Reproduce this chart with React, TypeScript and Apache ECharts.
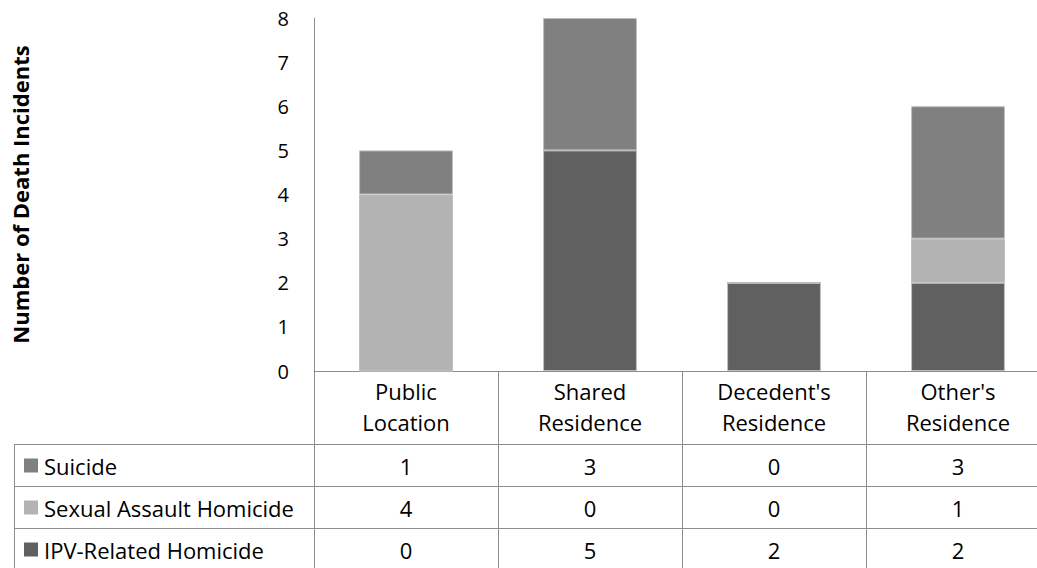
import React, { useEffect, useRef } from "react";
import * as echarts from "echarts";

const categories = ["Public Location", "Shared Residence", "Decedent's Residence", "Other's Residence"];
const suicide = [1, 3, 0, 3];
const sexualAssault = [4, 0, 0, 1];
const ipvHomicide = [0, 5, 2, 2];
const seriesNames = ["Suicide", "Sexual Assault Homicide", "IPV-Related Homicide"];
const seriesColors = ["#808080", "#b3b3b3", "#606060"];
const yMin = 0;
const yMax = 8;
const yInterval = 1;
const axisTitle = "Number of Death Incidents";

const FONT = "'Open Sans', 'Noto Sans', sans-serif";
const LINE = "#8e8e8e";

export default function App() {
  const ref = useRef<HTMLDivElement>(null);
  useEffect(() => {
    document.body.style.margin = "0";
    const el = ref.current!;
    const chart = echarts.init(el, null, { renderer: "svg" });
    const seriesData = [suicide, sexualAssault, ipvHomicide];
    // stack order bottom to top: IPV, Sexual, Suicide
    const stackOrder = [2, 1, 0];
    const option: any = {
      animation: false,
      grid: { left: 314, top: 18, width: 736, height: 353, containLabel: false, outerBoundsMode: "none" },
      xAxis: {
        type: "category",
        data: categories,
        axisLine: { lineStyle: { color: LINE, width: 1 } },
        axisTick: { show: true, interval: 0, length: 73, lineStyle: { color: LINE } },
        axisLabel: {
          interval: 0,
          margin: 4,
          color: "#000",
          fontFamily: FONT,
          fontSize: 22,
          lineHeight: 31,
          verticalAlign: "top",
          formatter: (v: string) => v.replace(" ", "\n"),
        },
      },
      yAxis: {
        type: "value",
        min: yMin,
        max: yMax,
        interval: yInterval,
        name: axisTitle,
        nameLocation: "middle",
        nameRotate: 90,
        nameGap: 283,
        nameTextStyle: { fontFamily: FONT, fontSize: 22, fontWeight: "bold", color: "#000" },
        axisLine: { show: true, lineStyle: { color: LINE, width: 1 } },
        axisTick: { show: false },
        splitLine: { show: false },
        axisLabel: { margin: 25, color: "#000", fontFamily: FONT, fontSize: 20 },
      },
      series: stackOrder.map((i) => ({
        name: seriesNames[i],
        type: "bar",
        stack: "total",
        data: seriesData[i],
        barWidth: "51%",
        itemStyle: { color: seriesColors[i], borderColor: "#bdbdbd", borderWidth: 1 },
      })),
    };
    chart.setOption(option);

    const cx = categories.map((_, i) => chart.convertToPixel({ xAxisIndex: 0 }, i) as number);
    const half = (cx[1] - cx[0]) / 2;
    const y0 = chart.convertToPixel({ yAxisIndex: 0 }, 0) as number;
    const headerH = 73;
    const rowH = 42;
    const tableLeft = 14;
    const rowsTop = Math.round(y0 + headerH) + 0.5;
    const rightEdge = cx[cx.length - 1] + half;
    const nRows = seriesNames.length;
    const g: any[] = [];
    for (let r = 0; r <= nRows; r++) {
      const y = rowsTop + r * rowH;
      g.push({ type: "line", silent: true, shape: { x1: tableLeft, y1: y, x2: rightEdge, y2: y }, style: { stroke: LINE, lineWidth: 1 } });
    }
    const vx = [tableLeft, ...cx.map((c) => c - half), rightEdge];
    vx.forEach((x) => {
      const xx = Math.round(x) + 0.5;
      g.push({ type: "line", silent: true, shape: { x1: xx, y1: rowsTop, x2: xx, y2: rowsTop + nRows * rowH }, style: { stroke: LINE, lineWidth: 1 } });
    });
    seriesNames.forEach((name, r) => {
      const yc = rowsTop + r * rowH + rowH / 2;
      g.push({ type: "rect", silent: true, shape: { x: 24, y: yc - 7, width: 14, height: 14 }, style: { fill: seriesColors[r] } });
      g.push({ type: "text", silent: true, x: 44, y: yc, style: { text: name, fill: "#000", font: `22px ${FONT}`, textAlign: "left", textVerticalAlign: "middle" } });
      seriesData[r].forEach((v, i) => {
        g.push({ type: "text", silent: true, x: cx[i], y: yc, style: { text: String(v), fill: "#000", font: `22px ${FONT}`, textAlign: "center", textVerticalAlign: "middle" } });
      });
    });
    chart.setOption({ graphic: g });
    return () => chart.dispose();
  }, []);
  return <div ref={ref} style={{ position: "absolute", left: 0, top: 0, width: 1037, height: 568 }} />;
}
